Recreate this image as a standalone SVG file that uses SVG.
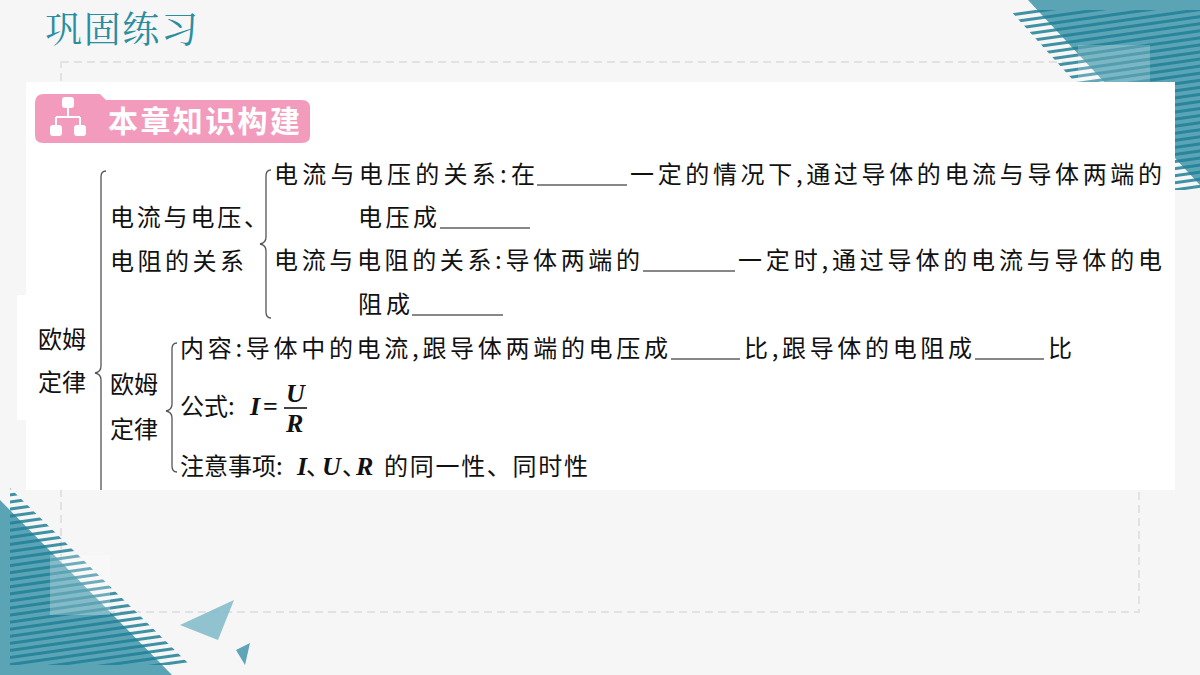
<svg xmlns="http://www.w3.org/2000/svg" width="1200" height="675" viewBox="0 0 1200 675">
<defs>
<style>
.t{font-family:"Noto Sans CJK SC","Noto Sans",sans-serif;font-size:24px;fill:#111}
.m{font-family:"Liberation Serif",serif;font-style:italic;font-weight:bold;font-size:26px;fill:#111}
.b{fill:none;stroke:#555;stroke-width:1.3}
.u{stroke:#111;stroke-width:1.2}
</style>
<pattern id="st" width="20" height="7" patternUnits="userSpaceOnUse" patternTransform="rotate(-8)">
<rect width="20" height="3" fill="#1f7f96"/>
</pattern>
</defs>
<rect width="1200" height="675" fill="#f6f6f6"/>
<rect x="61" y="62" width="1078" height="550" fill="none" stroke="#e2e2e2" stroke-width="2" stroke-dasharray="8,5"/>
<g id="deco-tr">
<polygon points="1028,0 1200,0 1200,185" fill="#5ba4b6"/>
<polygon points="1010,10 1200,10 1200,190 1172,190" fill="url(#st)" opacity="0.85"/>
<rect x="1078" y="45" width="72" height="40" fill="#fff" opacity="0.2"/>
</g>
<g id="deco-bl">
<polygon points="0,500 0,675 172,675" fill="#5ba4b6"/>
<polygon points="10,488 190,665 10,665" fill="url(#st)" opacity="0.85"/>
<rect x="50" y="555" width="60" height="60" fill="#fff" opacity="0.25"/>
<polygon points="180,625 234,600 218,640" fill="#7fb8c8" opacity="0.85"/>
<polygon points="236,650 250,643 245,665" fill="#5fa5b8"/>
</g>
<text x="45" y="43" textLength="153" style="font-family:'Noto Serif CJK SC','Noto Sans CJK SC',serif;font-size:37px;fill:#2a8ea0">巩固练习</text>
<rect x="26" y="82" width="1149" height="408" fill="#fff"/>
<rect x="17" y="295" width="20" height="125" fill="#fff"/>
<g id="header">
<path d="M35,103 Q35,94 44,94 L100,94 L106,100 L302,100 Q310,100 310,108 L310,136 Q310,143 302,143 L43,143 Q35,143 35,135 Z" fill="#f29bbd"/>
<g fill="#fff" stroke="#fff" stroke-width="2">
<rect x="63" y="98" width="10" height="9" rx="2"/>
<line x1="68" y1="107" x2="68" y2="117"/>
<line x1="56" y1="117" x2="80" y2="117"/>
<line x1="56" y1="117" x2="56" y2="126"/>
<line x1="80" y1="117" x2="80" y2="126"/>
<rect x="51" y="126" width="10" height="9" rx="2"/>
<rect x="75" y="126" width="10" height="9" rx="2"/>
</g>
<text x="108" y="132" textLength="192" style="font-family:'Noto Sans CJK SC',sans-serif;font-size:30px;font-weight:bold;fill:#fff">本章知识构建</text>
</g>
<g id="connectors">
<path class="b" d="M106,171 Q101,171 101,177 L101,366 Q101,372 95,373 Q101,374 101,380 L101,490"/>
<path class="b" d="M271,170 Q266,170 266,176 L266,237 Q266,243 260,244 Q266,245 266,251 L266,312 Q266,318 271,318"/>
<path class="b" d="M177,343 Q172,343 172,349 L172,404 Q172,410 166,411 Q172,412 172,418 L172,466 Q172,472 177,472"/>
</g>
<g id="root"><text class="t" x="38" y="348">欧姆</text><text class="t" x="38" y="391">定律</text></g>
<g id="rel"><text class="t" x="110" y="226" textLength="158">电流与电压、</text><text class="t" x="110" y="270" textLength="134">电阻的关系</text></g>
<g id="law"><text class="t" x="110" y="393">欧姆</text><text class="t" x="110" y="438">定律</text></g>
<g id="l1">
<text class="t" x="274" y="183" textLength="261">电流与电压的关系:在</text>
<line class="u" x1="537" y1="185" x2="627" y2="185"/>
<text class="t" x="630" y="183" textLength="532">一定的情况下,通过导体的电流与导体两端的</text>
<text class="t" x="358" y="226" textLength="79">电压成</text>
<line class="u" x1="440" y1="228" x2="530" y2="228"/>
</g>
<g id="l2">
<text class="t" x="274" y="269" textLength="366">电流与电阻的关系:导体两端的</text>
<line class="u" x1="643" y1="271" x2="735" y2="271"/>
<text class="t" x="738" y="269" textLength="424">一定时,通过导体的电流与导体的电</text>
<text class="t" x="358" y="313" textLength="52">阻成</text>
<line class="u" x1="412" y1="315" x2="503" y2="315"/>
</g>
<g id="l3">
<text class="t" x="180" y="357" textLength="488">内容:导体中的电流,跟导体两端的电压成</text>
<line class="u" x1="671" y1="359" x2="740" y2="359"/>
<text class="t" x="744" y="357" textLength="228">比,跟导体的电阻成</text>
<line class="u" x1="975" y1="359" x2="1044" y2="359"/>
<text class="t" x="1048" y="357">比</text>
</g>
<g id="l4">
<text class="t" x="180" y="415">公式:</text>
<text class="m" x="250" y="415">I</text>
<text class="m" x="263" y="415" style="font-style:normal">=</text>
<text class="m" x="286" y="402">U</text>
<line class="u" x1="284" y1="408" x2="307" y2="408" style="stroke-width:1.6"/>
<text class="m" x="286" y="432">R</text>
</g>
<g id="l5">
<text class="t" x="180" y="475">注意事项:</text>
<text class="m" x="297" y="475">I</text><text class="t" x="306" y="475">、</text>
<text class="m" x="322" y="475">U</text><text class="t" x="342" y="475">、</text>
<text class="m" x="356" y="475">R</text>
<text class="t" x="384" y="475" textLength="204">的同一性、同时性</text>
</g>
</svg>
